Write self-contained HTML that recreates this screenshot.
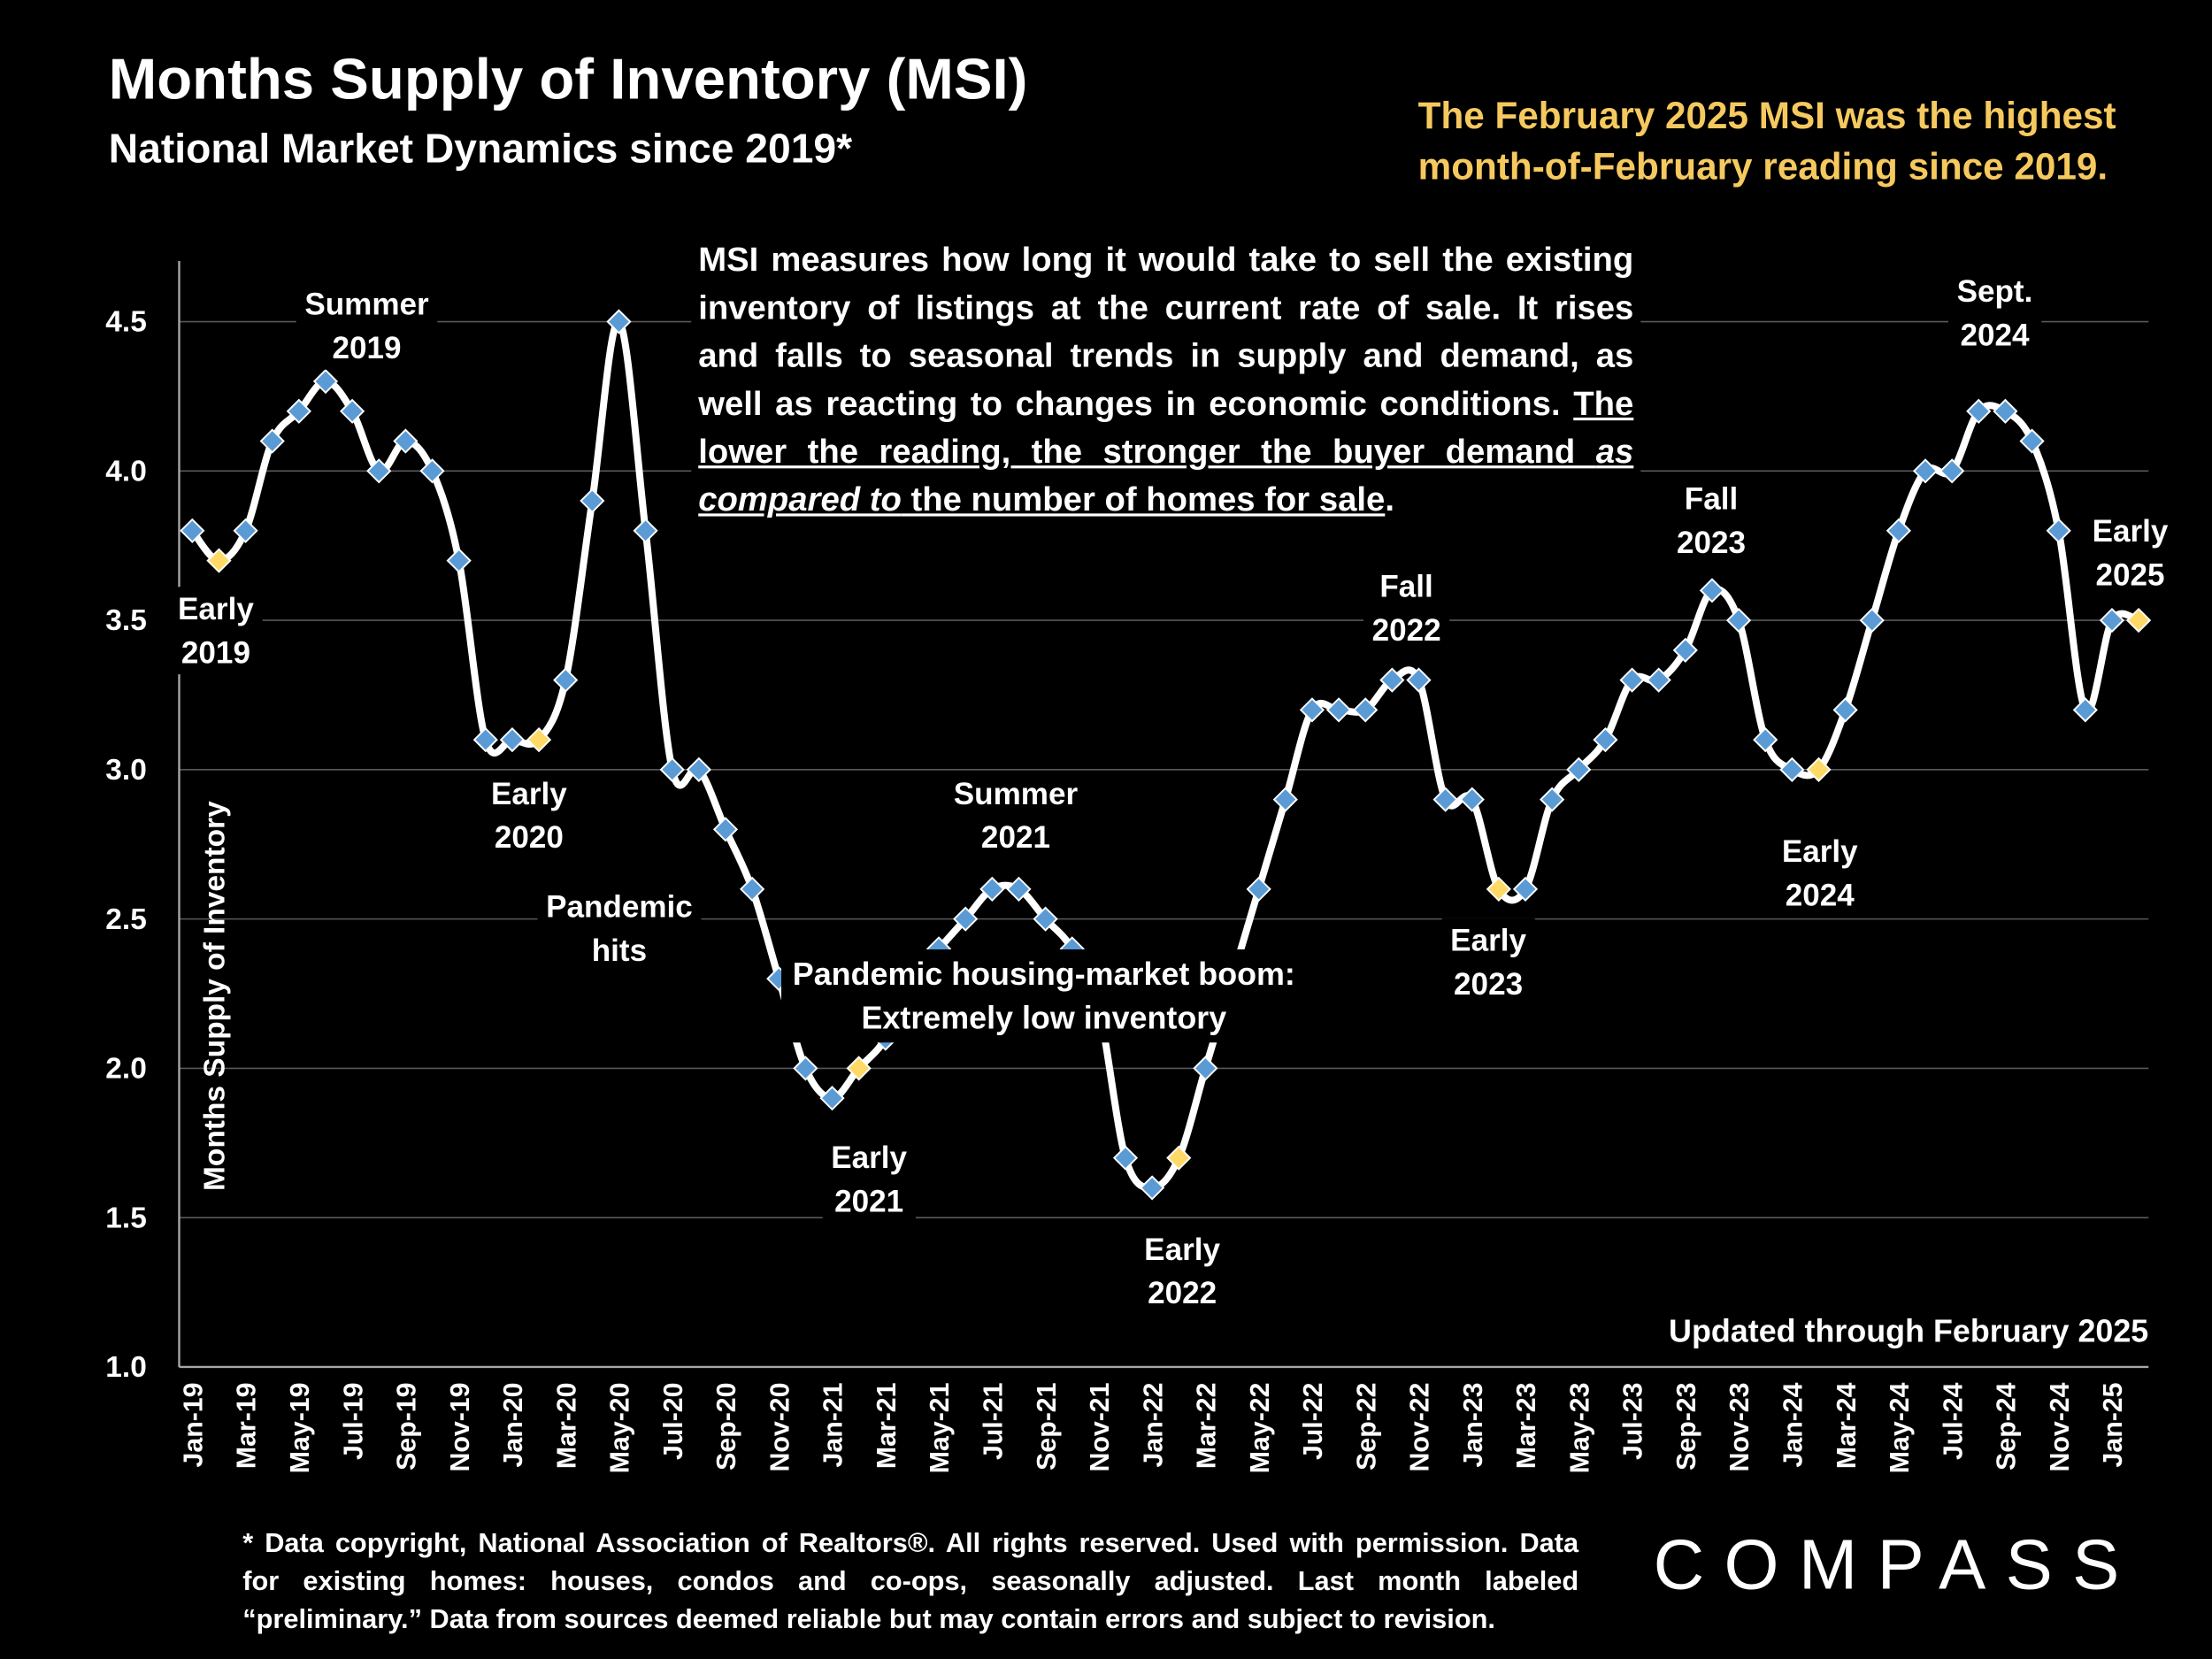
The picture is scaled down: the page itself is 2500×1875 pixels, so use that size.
<!DOCTYPE html>
<html><head><meta charset="utf-8">
<style>
html,body{margin:0;padding:0;background:#000;}
body{width:2500px;height:1875px;overflow:hidden;}
#stage{position:absolute;left:0;top:0;width:1568px;height:1176px;transform:scale(1.594388);transform-origin:0 0;font-family:"Liberation Sans",sans-serif;color:#fff;font-weight:bold;}
.abs{position:absolute;}
.lbl{position:absolute;background:#000;text-align:center;font-size:22px;line-height:31px;transform:translateX(-50%);padding:0 6px;white-space:nowrap;}
.jl{text-align:justify;text-align-last:justify;white-space:nowrap;}
.ll{text-align:left;white-space:nowrap;}
</style></head>
<body>
<div id="stage">
<svg id="chart" class="abs" style="left:0;top:0" width="1568" height="1176"></svg>

<div class="abs" style="left:77px;top:33px;font-size:41px;">Months Supply of Inventory (MSI)</div>
<div class="abs" style="left:77px;top:90px;font-size:29px;">National Market Dynamics since 2019*</div>
<div class="abs" style="right:68px;top:64px;font-size:26.5px;line-height:36px;color:#f6c95f;text-align:left;">The February 2025 MSI was the highest<br>month-of-February reading since 2019.</div>

<div class="abs" style="left:490px;top:168px;width:663px;background:#000;font-size:24px;line-height:34px;padding-left:5px;padding-right:5px;">
<div class="jl">MSI measures how long it would take to sell the existing</div>
<div class="jl">inventory of listings at the current rate of sale. It rises</div>
<div class="jl">and falls to seasonal trends in supply and demand, as</div>
<div class="jl">well as reacting to changes in economic conditions. <u>The</u></div>
<div class="jl"><u>lower the reading, the stronger the buyer demand <i>as</i></u></div>
<div class="ll"><u><i>compared to</i> the number of homes for sale</u>.</div>
</div>

<div class="lbl" style="left:153px;top:416px;">Early<br>2019</div>
<div class="lbl" style="left:260px;top:200px;">Summer<br>2019</div>
<div class="lbl" style="left:375px;top:547px;">Early<br>2020</div>
<div class="lbl" style="left:439px;top:627px;">Pandemic<br>hits</div>
<div class="lbl" style="left:720px;top:547px;">Summer<br>2021</div>
<div class="lbl" style="left:740px;top:673px;padding:2px 8px;font-size:22.5px;">Pandemic housing-market boom:<br>Extremely low inventory</div>
<div class="lbl" style="left:616px;top:805px;">Early<br>2021</div>
<div class="lbl" style="left:838px;top:870px;">Early<br>2022</div>
<div class="lbl" style="left:997px;top:400px;">Fall<br>2022</div>
<div class="lbl" style="left:1055px;top:651px;">Early<br>2023</div>
<div class="lbl" style="left:1213px;top:338px;">Fall<br>2023</div>
<div class="lbl" style="left:1290px;top:588px;">Early<br>2024</div>
<div class="lbl" style="left:1414px;top:191px;">Sept.<br>2024</div>
<div class="lbl" style="left:1510px;top:361px;">Early<br>2025</div>

<div class="abs" style="right:45px;top:931px;font-size:22.5px;">Updated through February 2025</div>

<div class="abs" style="left:172px;top:1081px;width:947px;font-size:19.3px;line-height:27px;">
<div class="jl">* Data copyright, National Association of Realtors®. All rights reserved. Used with permission. Data</div>
<div class="jl">for existing homes: houses, condos and co-ops, seasonally adjusted. Last month labeled</div>
<div class="ll">“preliminary.” Data from sources deemed reliable but may contain errors and subject to revision.</div>
</div>
<div class="abs" style="left:1172px;top:1080px;font-size:50px;font-weight:normal;letter-spacing:14px;">COMPASS</div>
</div>

<script>
const months = ["Jan","Feb","Mar","Apr","May","Jun","Jul","Aug","Sep","Oct","Nov","Dec"];
const startYear = 19;
const yTicks = [1.0,1.5,2.0,2.5,3.0,3.5,4.0,4.5];
const msiValues = [
3.8,3.7,3.8,4.1,4.2,4.3,4.2,4.0,4.1,4.0,3.7,3.1,
3.1,3.1,3.3,3.9,4.5,3.8,3.0,3.0,2.8,2.6,2.3,2.0,
1.9,2.0,2.1,2.3,2.4,2.5,2.6,2.6,2.5,2.4,2.2,1.7,
1.6,1.7,2.0,2.3,2.6,2.9,3.2,3.2,3.2,3.3,3.3,2.9,
2.9,2.6,2.6,2.9,3.0,3.1,3.3,3.3,3.4,3.6,3.5,3.1,
3.0,3.0,3.2,3.5,3.8,4.0,4.0,4.2,4.2,4.1,3.8,3.2,
3.5,3.5];

const NS="http://www.w3.org/2000/svg";
const svg=document.getElementById('chart');
const X0=127,X1=1523,Y0=969,firstX=136.3,stepX=18.9;
function xPos(i){return firstX+i*stepX;}
function yPos(v){return Y0-(v-1.0)*(741/3.5);}
function mk(tag,attrs){const e=document.createElementNS(NS,tag);for(const k in attrs)e.setAttribute(k,attrs[k]);svg.appendChild(e);return e;}

yTicks.forEach(v=>{
  if(v>1.0){const g=mk('line',{x1:X0,x2:X1,y1:yPos(v),y2:yPos(v),stroke:'#595959','stroke-width':1});
  
  }
  const t=mk('text',{x:104,y:yPos(v)+7,'text-anchor':'end','font-size':21,'font-weight':'bold',fill:'#fff','font-family':'Liberation Sans, sans-serif'});
  t.textContent=v.toFixed(1);
  
  
});
const ax=mk('line',{x1:X0,x2:X0,y1:185,y2:Y0,stroke:'#a6a6a6','stroke-width':1.5});


const bx=mk('line',{x1:X0,x2:X1,y1:Y0,y2:Y0,stroke:'#a6a6a6','stroke-width':1.5});



const yt=mk('text',{transform:'translate(159,706) rotate(-90)','text-anchor':'middle','font-size':21,'font-weight':'bold',fill:'#fff','font-family':'Liberation Sans, sans-serif'});
yt.textContent='Months Supply of Inventory';



for(let i=0;i<msiValues.length;i+=2){
  const lab=months[i%12]+'-'+(startYear+Math.floor(i/12));
  const t=mk('text',{transform:`translate(${xPos(i)+7},980) rotate(-90)`,'text-anchor':'end','font-size':19,'font-weight':'bold',fill:'#fff','font-family':'Liberation Sans, sans-serif'});
  t.textContent=lab;
  
  
}

const pts=msiValues.map((v,i)=>[xPos(i),yPos(v)]);
let d=`M${pts[0][0]},${pts[0][1]}`;
for(let i=0;i<pts.length-1;i++){
  const p0=pts[i-1]||pts[i],p1=pts[i],p2=pts[i+1],p3=pts[i+2]||p2;
  const c1=[p1[0]+(p2[0]-p0[0])/6,p1[1]+(p2[1]-p0[1])/6];
  const c2=[p2[0]-(p3[0]-p1[0])/6,p2[1]-(p3[1]-p1[1])/6];
  d+=` C${c1[0]},${c1[1]} ${c2[0]},${c2[1]} ${p2[0]},${p2[1]}`;
}
const line=mk('path',{d:d,fill:'none',stroke:'#fff','stroke-width':5,'stroke-linejoin':'round'});



msiValues.forEach((v,i)=>{
  const x=xPos(i),y=yPos(v),r=8;
  const feb=(i%12)===1;
  const m=mk('polygon',{points:`${x},${y-r} ${x+r},${y} ${x},${y+r} ${x-r},${y}`,fill:feb?'#ffd966':'#5b9bd5',stroke:'#fff','stroke-width':1.2});
  
  
});
</script>
</body></html>
